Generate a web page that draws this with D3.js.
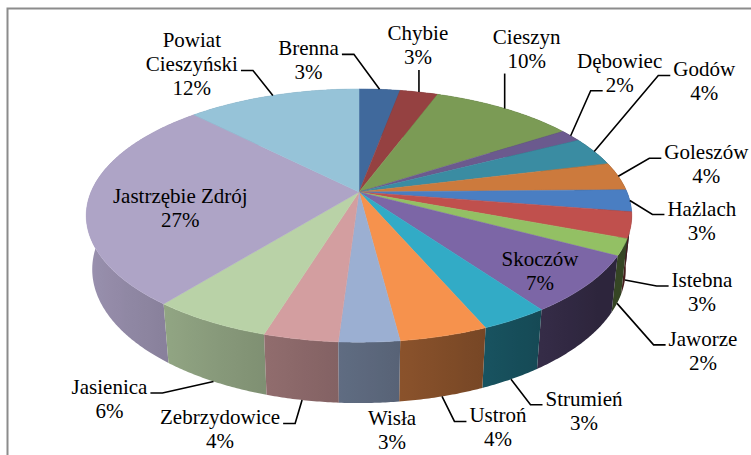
<!DOCTYPE html>
<html>
<head>
<meta charset="utf-8">
<script src="https://cdnjs.cloudflare.com/ajax/libs/d3/7.8.5/d3.min.js"></script>
<style>
  body { margin: 0; background: #fff; }
  text { font-family: 'Liberation Serif', 'DejaVu Serif', 'Times New Roman', serif; }
</style>
</head>
<body>
<script>
var width = 751;
var height = 455;

// slices, clockwise from 12 o'clock
var names = ['Brenna', 'Chybie', 'Cieszyn', 'Dębowiec', 'Godów', 'Goleszów', 'Hażlach',
    'Istebna', 'Jaworze', 'Skoczów', 'Strumień', 'Ustroń', 'Wisła', 'Zebrzydowice',
    'Jasienica', 'Jastrzębie Zdrój', 'Powiat Cieszyński'];
var shares = [2.9, 2.7, 10.2, 1.6, 3.7, 3.6, 2.8, 3.3, 2.1, 7.3, 3.4, 4.4, 3.0, 3.7, 6.0, 27.0, 12.3];

var colors = [
    '#40699c', '#954141', '#7b9b55', '#6b5a8e', '#3a8ca2', '#cc7a3d',
    '#4a7ec2', '#c0504d', '#93c064', '#7c66a6', '#32abc6', '#f6924d',
    '#9bafd2', '#d39ea0', '#b9d2a7', '#aea4c6', '#96c3d8'
];

// label placement: where the leader starts, offset of the text block, leader side, line it joins
var labelLayout = [
    ['top', -71, -29, 'r', 0],
    ['top', -1, -47, 'b', 0],
    ['top', 22, -60, 'b', 0],
    ['top', 49, -63, 'l', 1],
    ['top', 110, -70, 'l', 0],
    ['top', 88, -12, 'l', 0],
    ['top', 72, 20, 'l', 0],
    ['bot', 77, 12, 'l', 0],
    ['bot', 86, 47.5, 'l', 0],
    ['in', 3, 7, '', 0],
    ['bot', 73, 31.5, 'l', 0],
    ['bot', 56, 31, 'l', 0],
    ['bot', 23, 27, '', 0],
    ['bot', -82, 29.5, 'r', 0],
    ['bot', -104, 17.5, 'r', 0],
    ['in', 37, 11.5, '', 0],
    ['top', -81, -31, 'r', 1]
];
var wrapName = [false, false, false, false, false, false, false, false, false, false,
    false, false, false, false, false, false, true];

// perspective view of the tilted disc
var cx = 359, cy = 192;
var focal = 1281, dist = 4.78;
var tiltS = 0.456, tiltC = 0.89;
var thick = 0.227;

function project(theta, r, depth) {
    var u = r * Math.sin(theta);
    var v = -r * Math.cos(theta);
    var yc = v * tiltS + depth * tiltC;
    var zc = dist - v * tiltC + depth * tiltS;
    return [cx + focal * u / zc, cy + focal * yc / zc];
}

function shade(col, theta) {
    var k = Math.max(0.36, 0.6 - 0.3 * Math.sin(theta));
    var c = d3.rgb(col);
    return d3.rgb(c.r * k, c.g * k, c.b * k).formatHex();
}

var pie = d3.pie().sort(null).value(function(d) { return d; });
var piedata = pie(shares);
var total = d3.sum(shares);

var svg = d3.select('body')
    .append('svg')
    .attr('width', width)
    .attr('height', height);
var defs = svg.append('defs');

// chart frame (right and bottom edges fall outside the picture)
svg.append('rect')
    .attr('x', 7.5)
    .attr('y', 8.5)
    .attr('width', 800)
    .attr('height', 500)
    .attr('fill', 'none')
    .attr('stroke', '#8c8c8c')
    .attr('stroke-width', 2);

var line = d3.line();
var step = Math.PI / 360;
var deg = Math.PI / 180;

function arcPoints(a0, a1, depth) {
    var pts = [];
    var n = Math.max(2, Math.ceil((a1 - a0) / step));
    for (var k = 0; k <= n; k++) {
        pts.push(project(a0 + (a1 - a0) * k / n, 1, depth));
    }
    return pts;
}

// side wall: one path per slice, shaded left to right by a gradient
var sides = piedata.map(function(d, i) {
    var lo = Math.max(d.startAngle, 101 * deg);
    var hi = Math.min(d.endAngle, 259 * deg);
    var fill = shade(colors[i], (d.startAngle + d.endAngle) / 2);
    if (hi > lo) {
        var stops = [];
        var n = Math.max(2, Math.ceil((hi - lo) / (2 * deg)));
        for (var k = 0; k <= n; k++) {
            var a = lo + (hi - lo) * k / n;
            stops.push({ x: project(a, 1, 0)[0], c: shade(colors[i], a) });
        }
        stops.sort(function(p, q) { return p.x - q.x; });
        var x0 = stops[0].x, x1 = stops[stops.length - 1].x;
        var g = defs.append('linearGradient')
            .attr('id', 'side' + i)
            .attr('gradientUnits', 'userSpaceOnUse')
            .attr('x1', x0).attr('x2', x1)
            .attr('y1', 0).attr('y2', 0);
        g.selectAll('stop')
            .data(stops)
            .enter()
            .append('stop')
            .attr('offset', function(s) { return x1 > x0 ? (s.x - x0) / (x1 - x0) : 0; })
            .attr('stop-color', function(s) { return s.c; });
        fill = 'url(#side' + i + ')';
    }
    var top = arcPoints(d.startAngle, d.endAngle, 0);
    var bottom = arcPoints(d.startAngle, d.endAngle, thick).reverse();
    return {
        v: -Math.cos((d.startAngle + d.endAngle) / 2),
        fill: fill,
        pts: top.concat(bottom)
    };
});
sides.sort(function(a, b) { return a.v - b.v; });

svg.append('g')
    .selectAll('path')
    .data(sides)
    .enter()
    .append('path')
    .attr('d', function(d) { return line(d.pts) + 'Z'; })
    .attr('fill', function(d) { return d.fill; });

// top face
svg.append('g')
    .selectAll('path')
    .data(piedata)
    .enter()
    .append('path')
    .attr('d', function(d) {
        return line([project(0, 0, 0)].concat(arcPoints(d.startAngle, d.endAngle, 0))) + 'Z';
    })
    .attr('fill', function(d, i) { return colors[i]; })
    .attr('stroke', function(d, i) { return colors[i]; })
    .attr('stroke-width', 0.5);

// labels
var lineH = 24;
var labels = svg.append('g')
    .attr('font-size', 21)
    .attr('fill', '#000');

piedata.forEach(function(d, i) {
    var lay = labelLayout[i];
    var mid = (d.startAngle + d.endAngle) / 2;
    var anchor;
    if (lay[0] === 'in') {
        anchor = project(mid, 0.8, 0);
    } else if (lay[0] === 'bot') {
        anchor = project(mid, 1, thick);
    } else {
        anchor = project(mid, 1, 0);
    }
    var pct = Math.round(d.value / total * 100) + '%';
    var rows = wrapName[i] ? names[i].split(' ') : [names[i]];
    rows.push(pct);

    var bx = anchor[0] + lay[1];
    var by = anchor[1] + lay[2];
    var texts = rows.map(function(t, j) {
        var ly = by + (j - (rows.length - 1) / 2) * lineH;
        var el = labels.append('text')
            .attr('x', bx)
            .attr('y', ly + 7)
            .attr('text-anchor', 'middle')
            .text(t);
        return { y: ly, w: el.node().getComputedTextLength() };
    });

    var pts = null;
    var row = texts[lay[4]];
    if (lay[3] === 'l') {
        var ex = bx - row.w / 2 - 3, ey = row.y + 6;
        pts = [anchor, [ex - 12, ey], [ex, ey]];
    } else if (lay[3] === 'r') {
        var rx = bx + row.w / 2 + 3, ry = row.y + 6;
        pts = [anchor, [rx + 12, ry], [rx, ry]];
    } else if (lay[3] === 'b') {
        var last = texts[texts.length - 1];
        pts = [anchor, [anchor[0], last.y + 13]];
    }
    if (pts) {
        svg.append('path')
            .attr('d', line(pts))
            .attr('fill', 'none')
            .attr('stroke', '#000')
            .attr('stroke-width', 1.6);
    }
});
</script>
</body>
</html>
